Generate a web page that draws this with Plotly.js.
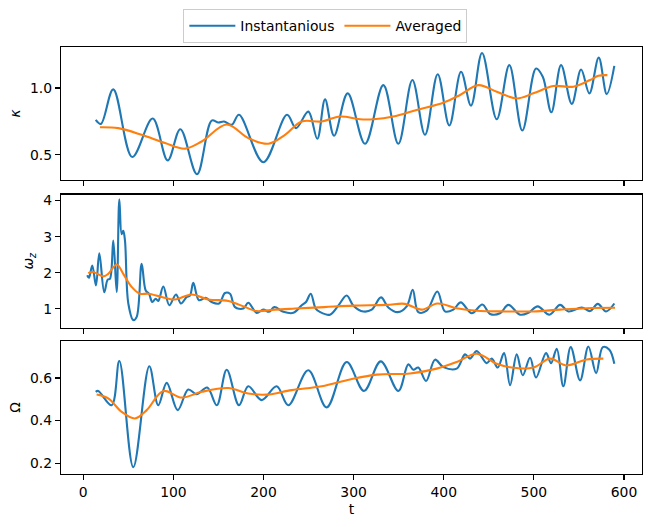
<!DOCTYPE html>
<html>
<head>
<meta charset="utf-8">
<script src="https://cdn.plot.ly/plotly-3.0.1.min.js"></script>
<style>
  html, body { margin: 0; padding: 0; background: #fff; }
  #chart { width: 651px; height: 527px; }
</style>
</head>
<body>
<div id="chart"></div>
<script>
// kappa: instantaneous and running-averaged
const kappaT = [13.8, 19.6, 33.3, 54.4, 77, 93.7, 107.7, 126.2, 142.5, 149.9, 156.2, 164.7, 172.8, 199.8, 226.1, 236.1, 249.7, 259.7, 268.3, 278.3, 293.4, 312.7, 333, 349.6, 365.2, 379.2, 393.3, 406.2, 419.2, 430.3, 442.5, 458.8, 472.8, 487.2, 502.4, 509.9, 519.4, 530.2, 542.1, 552.4, 561.6, 572, 580.9, 589.3];
const kappaInst = [0.761, 0.731, 0.99, 0.482, 0.771, 0.457, 0.691, 0.353, 0.756, 0.741, 0.749, 0.724, 0.799, 0.443, 0.799, 0.699, 0.823, 0.619, 0.915, 0.642, 0.960, 0.582, 1.022, 0.582, 1.06, 0.649, 1.104, 0.719, 1.122, 0.868, 1.263, 0.766, 1.172, 0.681, 1.146, 1.084, 0.818, 1.172, 0.881, 1.139, 0.960, 1.228, 0.955, 1.166];
const kappaAvgT = [18.5, 38.8, 64.8, 90.7, 112.9, 131.4, 159.2, 183.1, 205.3, 223.9, 242.4, 264.6, 284.9, 307.1, 321.9, 344, 370, 399.6, 418.1, 438.4, 458.8, 481, 499.4, 521.6, 543.8, 562.4, 571.6, 581.6];
const kappaAvg = [0.706, 0.699, 0.649, 0.587, 0.545, 0.599, 0.726, 0.624, 0.582, 0.649, 0.749, 0.749, 0.786, 0.766, 0.766, 0.786, 0.836, 0.890, 0.948, 1.022, 0.972, 0.922, 0.960, 1.015, 1.010, 1.060, 1.092, 1.097];

// omega_z: instantaneous and running-averaged
const omegaZT = [4.4, 6.3, 10, 14.1, 17.8, 23.3, 27.1, 29.6, 33.3, 37.1, 40, 42.6, 44.4, 46.3, 50, 55.5, 59.3, 64.8, 69.3, 72.9, 76.6, 80.4, 83.2, 88.8, 95.5, 102.9, 108.4, 114.8, 118.4, 122.1, 128.4, 135.8, 142.5, 150.6, 157.3, 162.8, 168.4, 177.6, 183.1, 192.4, 199.8, 206.1, 212, 222, 233.1, 242.4, 247.2, 252.4, 257.9, 263, 273.8, 283, 292.3, 299.7, 310.8, 320.1, 330.4, 338.5, 348.9, 358.9, 365.6, 371.8, 381.1, 392.9, 401.4, 410.7, 418.9, 431.1, 442.8, 451.4, 462.5, 471.7, 484.7, 493.9, 504.3, 517.2, 529.1, 538.3, 553.2, 562.4, 570.9, 580.1, 589.3];
const omegaZInst = [1.93, 1.86, 2.2, 1.65, 2.54, 1.46, 1.81, 1.83, 2.89, 1.47, 4.03, 3.07, 3.16, 2.89, 1.15, 0.69, 0.78, 2.25, 1.51, 1.42, 1.19, 1.28, 1.22, 1.62, 1.10, 1.40, 1.15, 1.33, 1.37, 1.72, 1.24, 1.31, 1.19, 1.15, 1.44, 1.42, 1.05, 1.01, 1.17, 0.89, 0.98, 0.92, 1.05, 0.92, 0.89, 1.10, 1.19, 1.42, 1.01, 0.91, 0.84, 1.09, 1.37, 1.09, 0.93, 0.98, 1.32, 1.04, 0.91, 1.07, 1.53, 0.91, 0.95, 1.48, 0.93, 0.98, 1.18, 0.88, 1.12, 0.86, 0.88, 1.11, 0.84, 0.89, 1.07, 0.84, 1.11, 0.93, 1.04, 0.94, 1.14, 0.93, 1.15];
const omegaZAvgT = [5.5, 11.1, 22.2, 27.7, 37.1, 44.4, 53.7, 62.9, 72.1, 87, 101.8, 120.3, 138.7, 160.9, 179.5, 192.4, 212.8, 235, 267.5, 299.7, 336.7, 357, 375.6, 392.9, 414.4, 436.6, 469.9, 499.4, 529.1, 558.7, 590.1];
const omegaZAvg = [1.99, 2.02, 1.90, 1.97, 2.23, 1.97, 1.61, 1.42, 1.42, 1.33, 1.26, 1.40, 1.26, 1.22, 1.05, 0.94, 0.98, 1.01, 1.05, 1.09, 1.11, 1.14, 0.98, 1.15, 1.02, 0.95, 0.93, 0.93, 0.98, 1.02, 1.03];

// Omega: instantaneous and running-averaged
const bigOmegaT = [13.8, 16.6, 31.5, 40, 55.5, 73.3, 83.2, 92.6, 104.8, 116.5, 125.9, 137.6, 148.1, 159.2, 172.8, 183.1, 198, 214.6, 227.5, 249.7, 270.1, 292.3, 311.5, 330.1, 349.6, 360.7, 366.3, 371.8, 380.4, 390.3, 399.6, 414.4, 423.6, 429.2, 436.6, 447.7, 453.3, 459.9, 466.9, 473.6, 481, 487.7, 495.8, 502.4, 513.5, 519.1, 525.4, 532.7, 540.9, 551.3, 560.5, 569.1, 576.5, 583.8, 589.3];
const bigOmegaInst = [0.535, 0.539, 0.472, 0.680, 0.181, 0.655, 0.472, 0.577, 0.449, 0.546, 0.524, 0.555, 0.472, 0.639, 0.472, 0.561, 0.496, 0.561, 0.472, 0.636, 0.462, 0.675, 0.539, 0.678, 0.539, 0.664, 0.639, 0.649, 0.586, 0.686, 0.651, 0.644, 0.711, 0.691, 0.726, 0.670, 0.691, 0.649, 0.717, 0.566, 0.711, 0.613, 0.695, 0.602, 0.717, 0.670, 0.737, 0.561, 0.745, 0.589, 0.748, 0.623, 0.745, 0.733, 0.667];
const bigOmegaAvgT = [14.8, 27.7, 42.6, 57.4, 70.4, 88.8, 109.2, 131.4, 160.9, 183.1, 203.5, 231.3, 264.6, 296, 325.6, 362.6, 392.2, 414.4, 436.6, 458.8, 475.5, 499.4, 518, 535.8, 558.7, 577.1];
const bigOmegaAvg = [0.522, 0.504, 0.441, 0.410, 0.449, 0.539, 0.508, 0.535, 0.553, 0.527, 0.522, 0.543, 0.561, 0.593, 0.616, 0.621, 0.644, 0.675, 0.714, 0.667, 0.649, 0.649, 0.691, 0.659, 0.687, 0.691];

const xTicks = [0, 100, 200, 300, 400, 500, 600];

const BLUE = '#1f77b4';
const ORANGE = '#ff7f0e';
const FONT = 'DejaVu Sans, sans-serif';
const FS = 13.9;

function line(x, y, color, name, axisIdx, showlegend) {
  const suffix = axisIdx === 1 ? '' : String(axisIdx);
  return {
    x: x, y: y, type: 'scatter', mode: 'lines', name: name,
    line: { color: color, width: 2.1, shape: 'spline', smoothing: 1 },
    xaxis: 'x' + suffix, yaxis: 'y' + suffix,
    showlegend: showlegend
  };
}

const traces = [
  line(kappaT, kappaInst, BLUE, 'Instantanious', 1, true),
  line(kappaAvgT, kappaAvg, ORANGE, 'Averaged', 1, true),
  line(omegaZT, omegaZInst, BLUE, 'Instantanious', 2, false),
  line(omegaZAvgT, omegaZAvg, ORANGE, 'Averaged', 2, false),
  line(bigOmegaT, bigOmegaInst, BLUE, 'Instantanious', 3, false),
  line(bigOmegaAvgT, bigOmegaAvg, ORANGE, 'Averaged', 3, false)
];

const XRANGE = [-24.7, 620];

function xAxis(anchor, showLabels) {
  return {
    anchor: anchor, range: XRANGE, tickvals: xTicks,
    showticklabels: showLabels,
    ticks: 'outside', ticklen: 5, tickwidth: 1.1, tickcolor: '#000',
    showline: true, mirror: true, linecolor: '#000', linewidth: 1.1,
    showgrid: false, zeroline: false,
    tickfont: { family: FONT, size: FS, color: '#000' }
  };
}

function yAxis(anchor, domain, range, ticks, tickText, title) {
  return {
    anchor: anchor, domain: domain, range: range,
    tickvals: ticks, ticktext: tickText,
    ticks: 'outside', ticklen: 5, tickwidth: 1.1, tickcolor: '#000',
    showline: true, mirror: true, linecolor: '#000', linewidth: 1.1,
    showgrid: false, zeroline: false,
    tickfont: { family: FONT, size: FS, color: '#000' },
    title: { text: title, font: { family: FONT, size: FS, color: '#000' }, standoff: 6 }
  };
}

const layout = {
  width: 651, height: 527,
  margin: { l: 61, r: 9, t: 45, b: 52.7, pad: 0 },
  paper_bgcolor: '#fff', plot_bgcolor: '#fff',
  font: { family: FONT, size: FS, color: '#000' },
  showlegend: true,
  legend: {
    orientation: 'h', x: 0.455, xanchor: 'center', y: 1.0885, yanchor: 'top',
    bordercolor: '#cccccc', borderwidth: 1, bgcolor: '#fff',
    font: { family: FONT, size: FS, color: '#000' },
    itemwidth: 46, tracegroupgap: 0
  },
  xaxis: xAxis('y', false),
  xaxis2: xAxis('y2', false),
  xaxis3: Object.assign(xAxis('y3', true), {
    title: { text: 't', font: { family: FONT, size: FS, color: '#000' }, standoff: 5 }
  }),
  yaxis: yAxis('x', [0.6886, 1], [0.31, 1.308], [0.5, 1.0], ['0.5', '1.0'], '<i>κ</i>'),
  yaxis2: yAxis('x2', [0.3424, 0.6545], [0.477, 4.165], [1, 2, 3, 4], ['1', '2', '3', '4'], '<i>ω</i><sub><i>z</i></sub>'),
  yaxis3: yAxis('x3', [0, 0.3121], [0.149, 0.775], [0.2, 0.4, 0.6], ['0.2', '0.4', '0.6'], 'Ω')
};

Plotly.newPlot('chart', traces, layout, { displayModeBar: false, staticPlot: true });
</script>
</body>
</html>
